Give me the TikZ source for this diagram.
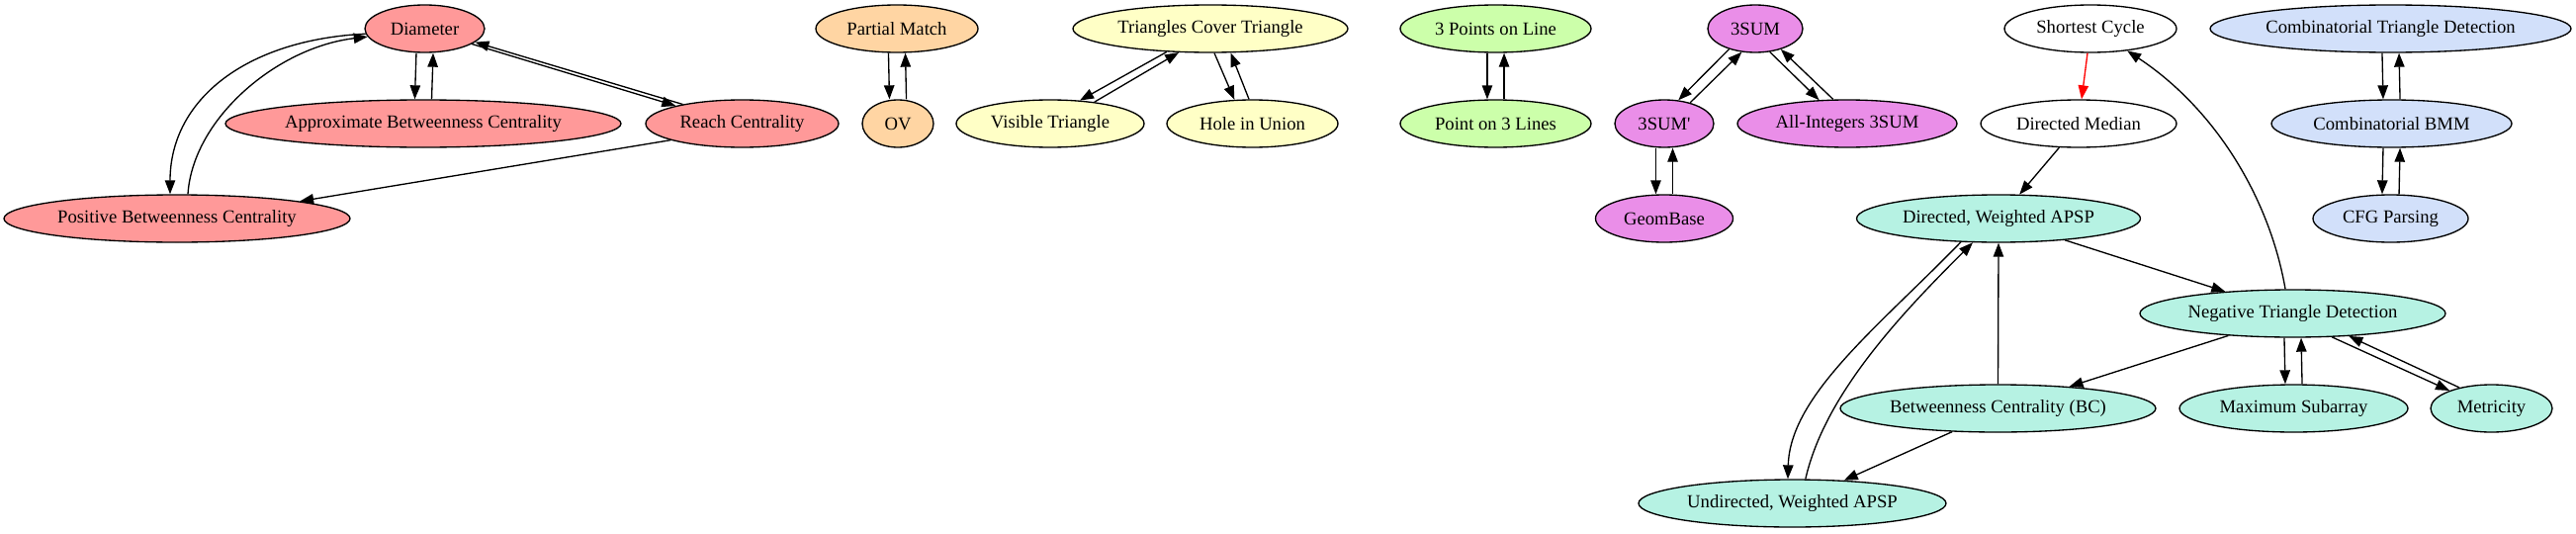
\documentclass[tikz,border=0pt]{standalone}
\usepackage{fontspec}
\setmainfont{Liberation Serif}[Ligatures=TeXOff]
\usetikzlibrary{shapes.geometric,arrows.meta}
\definecolor{cred}{HTML}{FF9999}
\definecolor{corange}{HTML}{FFD5A3}
\definecolor{cyellow}{HTML}{FFFFC6}
\definecolor{cgreen}{HTML}{CCFFAA}
\definecolor{cmag}{HTML}{EA8EE8}
\definecolor{cteal}{HTML}{B6F2E3}
\definecolor{cblue}{HTML}{D2E0FA}
\tikzset{
  gv/.style={ellipse, draw=black, line width=1pt, inner sep=0pt,
    minimum height=36pt, font=\fontsize{14pt}{16.8pt}\selectfont},
  wd/.style={minimum width={#1*0.75pt}},
  e/.style={-{Triangle[length=10.5pt,width=7.8pt]}, line width=1pt},
  er/.style={e, draw=red, -{Triangle[length=10.5pt,width=7.8pt,fill=red]}},
}
\begin{document}
\begin{tikzpicture}[x=0.75pt,y=-0.75pt]
\useasboundingbox (0,0) rectangle (2605,539);
% red
\node[gv,fill=cred,wd=121] (dia) at (429.5,29) {Diameter};
\node[gv,fill=cred,wd=400] (abc) at (428,125) {Approximate Betweenness Centrality};
\node[gv,fill=cred,wd=195] (reach) at (750.5,125) {Reach Centrality};
\node[gv,fill=cred,wd=350] (pbc) at (179,221) {Positive Betweenness Centrality};
% orange
\node[gv,fill=corange,wd=164] (pm) at (907,29) {Partial Match};
\node[gv,fill=corange,wd=72] (ov) at (908,125) {OV};
% yellow
\node[gv,fill=cyellow,wd=278] (tct) at (1224,29) {Triangles Cover Triangle};
\node[gv,fill=cyellow,wd=190] (vis) at (1062,125) {Visible Triangle};
\node[gv,fill=cyellow,wd=173] (hole) at (1266.5,125) {Hole in Union};
% green
\node[gv,fill=cgreen,wd=193] (tpl) at (1512.5,29) {3 Points on Line};
\node[gv,fill=cgreen,wd=193] (ptl) at (1512.5,125) {Point on 3 Lines};
% magenta
\node[gv,fill=cmag,wd=96] (suma) at (1775,29) {3SUM};
\node[gv,fill=cmag,wd=100] (sump) at (1683,125) {3SUM'};
\node[gv,fill=cmag,wd=222] (allint) at (1868,125) {All-Integers 3SUM};
\node[gv,fill=cmag,wd=139] (geom) at (1683,221) {GeomBase};
% white
\node[gv,fill=white,wd=174] (sc) at (2114,29) {Shortest Cycle};
\node[gv,fill=white,wd=198] (dm) at (2102,125) {Directed Median};
% teal
\node[gv,fill=cteal,wd=287] (dw) at (2021,221) {Directed, Weighted APSP};
\node[gv,fill=cteal,wd=309] (ntd) at (2318.5,317) {Negative Triangle Detection};
\node[gv,fill=cteal,wd=319] (bc) at (2020.5,413) {Betweenness Centrality (BC)};
\node[gv,fill=cteal,wd=231] (msa) at (2319.5,413) {Maximum Subarray};
\node[gv,fill=cteal,wd=123] (met) at (2519.5,413) {Metricity};
\node[gv,fill=cteal,wd=311] (uw) at (1812.5,509) {Undirected, Weighted APSP};
% blue
\node[gv,fill=cblue,wd=365] (ctd) at (2417.5,29) {Combinatorial Triangle Detection};
\node[gv,fill=cblue,wd=243] (bmm) at (2418.5,125) {Combinatorial BMM};
\node[gv,fill=cblue,wd=157] (cfg) at (2417.5,221) {CFG Parsing};

% red edges
\draw[e] ([xshift=-6.4pt]dia.south) -- ([xshift=-6.4pt]abc.north);
\draw[e] ([xshift=6.4pt]abc.north) -- ([xshift=6.4pt]dia.south);
\draw[e] (dia.-18) -- (reach.165);
\draw[e] (reach.162) -- (dia.-15);
\draw[e] (dia.185) .. controls (250,40) and (172,100) .. ([xshift=-5.25pt]pbc.north);
\draw[e] ([xshift=8.25pt]pbc.north) .. controls (195,120) and (280,48) .. (dia.188);
\draw[e] (reach.193) -- (pbc.8);
% orange
\draw[e] ([xshift=-6.4pt]pm.south) -- ([xshift=-6.4pt]ov.north);
\draw[e] ([xshift=6.4pt]ov.north) -- ([xshift=6.4pt]pm.south);
% yellow
\draw[e] (tct.208) -- (vis.38);
\draw[e] (vis.26) -- (tct.217);
\draw[e] ([xshift=3pt]tct.south) -- (hole.127);
\draw[e] ([xshift=-2.6pt]hole.north) -- (tct.-50);
% green
\draw[e] ([xshift=-6.4pt]tpl.south) -- ([xshift=-6.4pt]ptl.north);
\draw[e] ([xshift=6.4pt]ptl.north) -- ([xshift=6.4pt]tpl.south);
% magenta
\draw[e] (suma.218) -- (sump.59);
\draw[e] (sump.39) -- (suma.240);
\draw[e] (suma.-58) -- (allint.140);
\draw[e] (allint.120) -- (suma.-39);
\draw[e] ([xshift=-6.4pt]sump.south) -- ([xshift=-6.4pt]geom.north);
\draw[e] ([xshift=6.4pt]geom.north) -- ([xshift=6.4pt]sump.south);
% white / teal
\draw[er] ([xshift=-2.25pt]sc.south) -- ([xshift=2.25pt]dm.north);
\draw[e] (dm.231) -- (dw.49);
\draw[e] ([xshift=-5.6pt]ntd.north) .. controls (2295,200) and (2240,110) .. (sc.-31);
\draw[e] (dw.-18) -- (ntd.162);
\draw[e] (ntd.199) -- (bc.17);
\draw[e] (bc.north) -- (dw.south);
\draw[e] (bc.207) -- (uw.24);
\draw[e] (dw.212) .. controls (1900,330) and (1810,400) .. ([xshift=-3.4pt]uw.north);
\draw[e] ([xshift=10pt]uw.north) .. controls (1845,400) and (1920,320) .. (dw.223);
\draw[e] ([xshift=-6.4pt]ntd.south) -- ([xshift=-6.4pt]msa.north);
\draw[e] ([xshift=6.4pt]msa.north) -- ([xshift=6.4pt]ntd.south);
\draw[e] (ntd.-31) -- (met.157);
\draw[e] (met.147) -- (ntd.-22);
% blue
\draw[e] ([xshift=-6.4pt]ctd.south) -- ([xshift=-6.4pt]bmm.north);
\draw[e] ([xshift=6.4pt]bmm.north) -- ([xshift=6.4pt]ctd.south);
\draw[e] ([xshift=-6.4pt]bmm.south) -- ([xshift=-6.4pt]cfg.north);
\draw[e] ([xshift=6.4pt]cfg.north) -- ([xshift=6.4pt]bmm.south);
\end{tikzpicture}
\end{document}
